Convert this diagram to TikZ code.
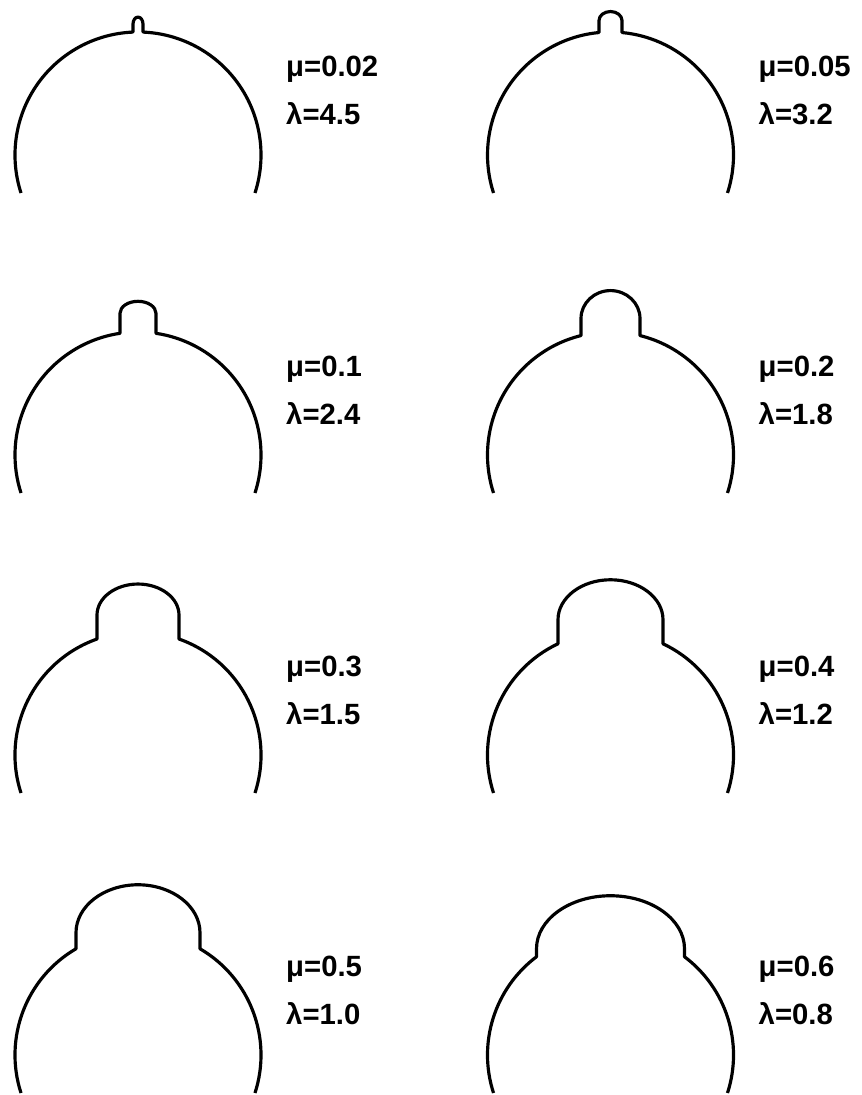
\documentclass[tikz,border=0pt]{standalone}
\usepackage{fontspec}
\setmainfont{Liberation Sans}
\usetikzlibrary{calc}
\tikzset{
    OutlineStyle/.style={line width=0.95mm, line join=round, black},
    ParamText/.style={font=\fontsize{25}{30}\selectfont\bfseries, anchor=base west, inner sep=0pt}
}
\begin{document}
\begin{tikzpicture}[x=0.3mm, y=0.3mm]
    \useasboundingbox (0,0) rectangle (862,1095);
    % radius of the main arc, angle of its open ends below the centre
    \def\bigR{123}
    \def\endAng{18}

    % col/row/half width of the cap/neck length/cap height/mu/lambda
    \foreach \col/\row/\hw/\neck/\hy/\muv/\lamv in {
        0/0/5/8/7/0.02/4.5,    1/0/11.5/12/9/0.05/3.2,
        0/1/18/20/12/0.1/2.4,  1/1/29.5/17/28/0.2/1.8,
        0/2/41/24/31/0.3/1.5,  1/2/52.5/24/40/0.4/1.2,
        0/3/62/16/48/0.5/1.0,  1/3/74/8/53/0.6/0.8} {
        \pgfmathsetmacro{\jAng}{acos(\hw/\bigR)}
        \coordinate (c\row\col) at ({138+472.5*\col}, {940-300*\row});
        \draw[OutlineStyle] (c\row\col) ++(-\endAng:\bigR)
            arc[start angle=-\endAng, end angle=\jAng, radius=\bigR]
            -- ++(0,\neck)
            arc[start angle=0, end angle=180, x radius=\hw, y radius=\hy]
            -- ++(0,-\neck)
            arc[start angle={180-\jAng}, end angle={180+\endAng}, radius=\bigR];
        \node[ParamText] (mu\row\col) at ($(c\row\col)+(148,78)$) {μ=\muv};
        \node[ParamText] (lam\row\col) at ($(c\row\col)+(148,30)$) {λ=\lamv};
    }
\end{tikzpicture}
\end{document}
